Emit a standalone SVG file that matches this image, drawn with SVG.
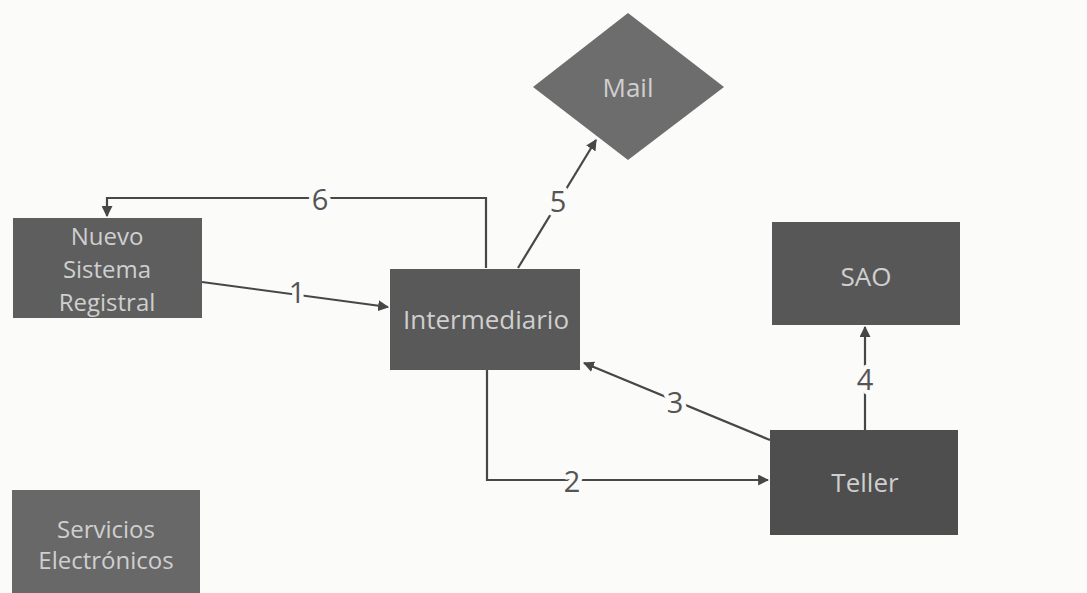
<svg xmlns="http://www.w3.org/2000/svg" width="1087" height="593" viewBox="0 0 1087 593">
  <style>
    .box { stroke: none; }
    .nt { font-family: "Open Sans", "Liberation Sans", sans-serif; font-size: 26px; fill: #cfcfcf; text-anchor: middle; }
    .nt2 { font-size: 24px; }
    .ln { fill: none; stroke: #474747; stroke-width: 2.2; }
    .lb { font-family: "Open Sans", "Liberation Sans", sans-serif; font-size: 29px; fill: #555555; text-anchor: middle; stroke: #fbfbf9; stroke-width: 9; paint-order: stroke; stroke-linejoin: round; }
  </style>
  <defs>
    <marker id="arr" viewBox="0 0 10 10" refX="9" refY="5" markerWidth="5" markerHeight="5" orient="auto" markerUnits="strokeWidth">
      <path d="M0,0 L10,5 L0,10 z" fill="#474747"/>
    </marker>
  </defs>
  <rect width="1087" height="593" fill="#fbfbf9"/>

  <g id="connectors">
    <polyline class="ln" points="486,268 486,198 107,198 107,216" marker-end="url(#arr)"/>
    <line class="ln" x1="202" y1="282" x2="388" y2="307" marker-end="url(#arr)"/>
    <polyline class="ln" points="487,370 487,480 768,480" marker-end="url(#arr)"/>
    <line class="ln" x1="770" y1="440" x2="584" y2="363" marker-end="url(#arr)"/>
    <line class="ln" x1="865" y1="430" x2="865" y2="327" marker-end="url(#arr)"/>
    <line class="ln" x1="518" y1="268" x2="596" y2="140" marker-end="url(#arr)"/>
    <text class="lb" x="320" y="210">6</text>
    <text class="lb" x="297" y="303">1</text>
    <text class="lb" x="572" y="492">2</text>
    <text class="lb" x="675" y="413">3</text>
    <text class="lb" x="865" y="390">4</text>
    <text class="lb" x="558" y="212">5</text>
  </g>

  <g id="nuevo">
    <rect class="box" x="13" y="218" width="189" height="100" fill="#5e5e5e"/>
    <text class="nt nt2" x="107" y="245">Nuevo</text>
    <text class="nt nt2" x="107" y="278">Sistema</text>
    <text class="nt nt2" x="107" y="311">Registral</text>
  </g>

  <g id="intermediario">
    <rect class="box" x="390" y="269" width="190" height="101" fill="#595959"/>
    <text class="nt" x="486" y="329">Intermediario</text>
  </g>

  <g id="mail">
    <polygon class="box" points="628,13 724,87 628,160 533,87" fill="#6d6d6d"/>
    <text class="nt" x="628" y="97">Mail</text>
  </g>

  <g id="sao">
    <rect class="box" x="772" y="222" width="188" height="103" fill="#575757"/>
    <text class="nt" x="866" y="286">SAO</text>
  </g>

  <g id="teller">
    <rect class="box" x="770" y="430" width="188" height="105" fill="#4e4e4e"/>
    <text class="nt" x="865" y="492">Teller</text>
  </g>

  <g id="servicios">
    <rect class="box" x="12" y="490" width="188" height="110" fill="#686868"/>
    <text class="nt nt2" x="106" y="538">Servicios</text>
    <text class="nt nt2" x="106" y="569">Electrónicos</text>
  </g>
</svg>
